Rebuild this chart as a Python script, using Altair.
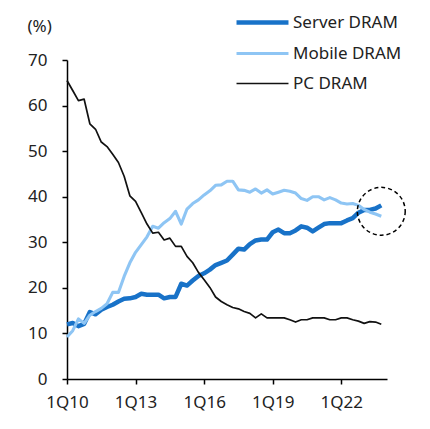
import altair as alt
import pandas as pd

quarters = list(range(56))
server = [12.0, 12.3, 11.6, 12.1, 14.7, 14.2, 15.2, 15.8, 16.3, 17.0,
          17.6, 17.7, 18.0, 18.7, 18.5, 18.5, 18.5, 17.7, 18.0, 18.0,
          20.9, 20.5, 21.6, 22.6, 23.2, 24.0, 25.0, 25.5, 26.0, 27.3,
          28.6, 28.4, 29.6, 30.4, 30.6, 30.6, 32.2, 32.8, 32.0, 32.0,
          32.6, 33.5, 33.2, 32.4, 33.2, 34.0, 34.2, 34.2, 34.2, 34.8,
          35.3, 36.5, 37.1, 37.1, 37.4, 38.1]
mobile = [9.2, 10.6, 13.2, 12.2, 14.0, 14.8, 15.5, 16.5, 19.0, 19.0,
          22.5, 25.5, 27.8, 29.5, 31.2, 33.5, 33.1, 34.3, 35.2, 36.8,
          34.0, 37.3, 38.5, 39.3, 40.4, 41.3, 42.5, 42.6, 43.4, 43.4,
          41.5, 41.4, 41.0, 41.7, 40.8, 41.5, 40.6, 41.0, 41.4, 41.2,
          40.8, 39.6, 39.2, 40.0, 40.0, 39.3, 39.8, 39.3, 38.6, 38.4,
          38.5, 38.1, 37.2, 36.6, 36.2, 35.7]
pc = [65.5, 63.3, 61.1, 61.4, 56.0, 54.8, 52.0, 51.0, 49.3, 47.5,
      44.5, 40.2, 39.0, 36.5, 34.0, 32.0, 32.2, 30.5, 30.9, 29.1,
      29.1, 26.9, 25.5, 23.4, 21.8, 20.1, 18.0, 17.0, 16.3, 15.7,
      15.4, 14.8, 14.4, 13.4, 14.3, 13.4, 13.4, 13.4, 13.4, 13.0,
      12.5, 13.0, 13.0, 13.4, 13.4, 13.4, 13.0, 13.0, 13.4, 13.4,
      13.0, 12.7, 12.2, 12.6, 12.5, 12.0]

series_names = ["Server DRAM", "Mobile DRAM", "PC DRAM"]
series_colors = ["#1872C8", "#8EC5F4", "#111111"]
series_widths = [4.5, 1.7, 1.7]
tick_positions = [0, 12, 24, 36, 48]
tick_labels = ["1Q10", "1Q13", "1Q16", "1Q19", "1Q22"]
y_ticks = [0, 10, 20, 30, 40, 50, 60, 70]
highlight_q = [55]
highlight_v = [36.8]

rows = []
for name, vals in zip(series_names, [server, mobile, pc]):
    for q, v in zip(quarters, vals):
        rows.append({"q": q, "v": v, "series": name})
df = pd.DataFrame(rows)
hl = pd.DataFrame({"q": highlight_q, "v": highlight_v})

label_expr = ("[" + ",".join(f"'{t}'" for t in tick_labels) + "][indexof(["
              + ",".join(str(p) for p in tick_positions) + "], datum.value)]")

FONT = "Noto Sans"
FS = 17
xs = alt.X("q:Q", scale=alt.Scale(domain=[0, 56], nice=False, zero=False),
           axis=alt.Axis(values=tick_positions, labelExpr=label_expr, title=None,
                         grid=False, domainColor="black", domainWidth=1.5,
                         tickColor="black", tickWidth=1.5, tickSize=5,
                         labelFlush=False,
                         labelPadding=10, labelFontSize=FS, labelColor="#222",
                         labelFont=FONT))
ys = alt.Y("v:Q", scale=alt.Scale(domain=[0, 70], nice=False),
           axis=alt.Axis(values=y_ticks, title="(%)", titleAngle=0, titleX=-40,
                         titleY=-34, titleAlign="left", titleBaseline="middle",
                         titleFontWeight="normal", titleFontSize=FS, titleFont=FONT,
                         titleColor="#222", labelFlush=False,
                         grid=False, domainColor="black", domainWidth=1.5,
                         tickColor="black", tickWidth=1.5, tickSize=5,
                         labelPadding=15, labelFontSize=FS, labelColor="#222",
                         labelFont=FONT))

lines = alt.Chart(df).mark_line(strokeJoin="round").encode(
    x=xs,
    y=ys,
    color=alt.Color("series:N", scale=alt.Scale(domain=series_names, range=series_colors),
                    title=None),
    strokeWidth=alt.StrokeWidth("series:N",
                                scale=alt.Scale(domain=series_names, range=series_widths),
                                title=None),
)

circle = alt.Chart(hl).mark_point(shape="circle", filled=False, size=2290,
                                  stroke="black", strokeWidth=1.5,
                                  strokeDash=[4, 3], opacity=1).encode(
    x=alt.X("q:Q"), y=alt.Y("v:Q"))

chart = alt.layer(lines, circle).properties(
    width=320, height=319,
    padding={"left": 59, "top": 52, "right": 30, "bottom": 40},
    autosize="none",
).configure_view(stroke=None).configure_legend(
    orient="none", legendX=187, legendY=-46, symbolType="M-5,0H5",
    symbolSize=108, labelFontSize=FS, labelFont=FONT, labelColor="#222",
    labelFontWeight="normal",
    rowPadding=12, labelOffset=22, padding=0,
)

chart.save("out.html", embed_options={"renderer": "svg", "actions": False})
